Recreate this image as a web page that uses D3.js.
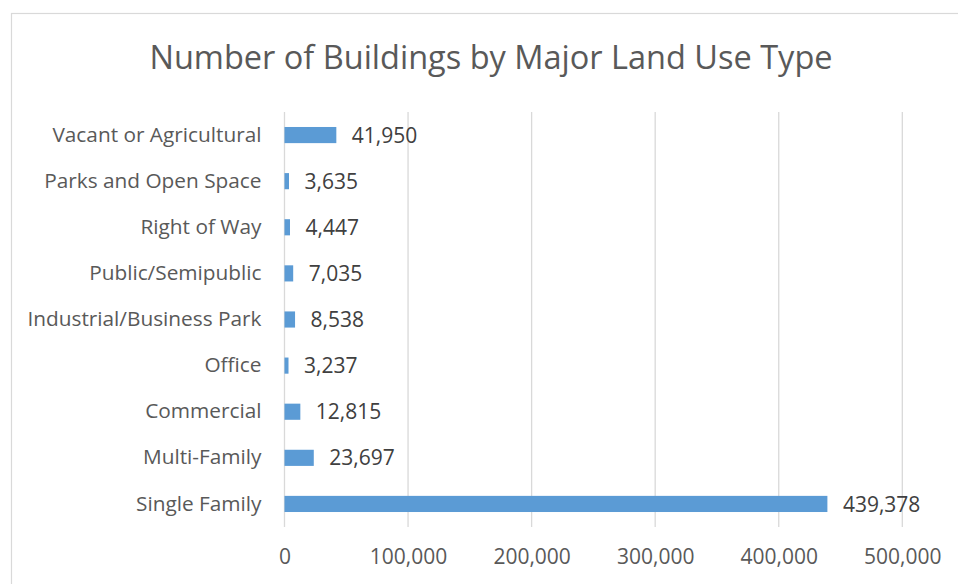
<!DOCTYPE html>
<html><head><meta charset="utf-8">
<script src="https://cdn.jsdelivr.net/npm/d3@7"></script>
<style>body{margin:0;background:#fff;}svg{display:block;font-family:"Open Sans",sans-serif;}</style>
</head><body>
<svg id="c" width="958" height="584"></svg>
<script>
const categories = ["Vacant or Agricultural","Parks and Open Space","Right of Way","Public/Semipublic","Industrial/Business Park","Office","Commercial","Multi-Family","Single Family"];
const values = [41950,3635,4447,7035,8538,3237,12815,23697,439378];
const tickValues = [0,100000,200000,300000,400000,500000];
const title = "Number of Buildings by Major Land Use Type";

const svg = d3.select("#c");
svg.append("rect").attr("x",11.5).attr("y",13.5).attr("width",1000).attr("height",1000)
  .attr("fill","#fff").attr("stroke","#D9D9D9").attr("stroke-width",1.2);

const x = d3.scaleLinear().domain([0,500000]).range([284.5,902.3]);
const y = d3.scaleBand().domain(categories).range([112,527]).paddingInner(0.65).paddingOuter(0.325);

// gridlines
svg.append("g").selectAll("line").data(tickValues).join("line")
  .attr("x1",d=>x(d)).attr("x2",d=>x(d)).attr("y1",112).attr("y2",527)
  .attr("stroke","#D9D9D9").attr("stroke-width",1.3);

// x axis labels
const xAxis = d3.axisBottom(x).tickValues(tickValues).tickFormat(d3.format(",")).tickSize(0).tickPadding(0);
const gx = svg.append("g").attr("transform","translate(0,549)").call(xAxis);
gx.select(".domain").remove();
gx.selectAll("text").attr("font-size",21).attr("fill","#595959").attr("font-family","Open Sans").attr("dy","0.71em").attr("y",0);

// y axis labels
const yAxis = d3.axisLeft(y).tickSize(0).tickPadding(23);
const gy = svg.append("g").attr("transform","translate(284.5,0)").call(yAxis);
gy.select(".domain").remove();
gy.selectAll("text").attr("font-size",20.8).attr("fill","#595959").attr("font-family","Open Sans");

// bars
const data = categories.map((c,i)=>({c, v: values[i]}));
svg.append("g").selectAll("rect").data(data).join("rect")
  .attr("x",x(0)).attr("y",d=>y(d.c)).attr("width",d=>x(d.v)-x(0)).attr("height",y.bandwidth())
  .attr("fill","#5B9BD5");

// value labels
svg.append("g").selectAll("text").data(data).join("text")
  .attr("x",d=>x(d.v)+15.5).attr("y",d=>y(d.c)+y.bandwidth()/2).attr("dy","0.36em")
  .attr("font-size",21).attr("fill","#404040").text(d=>d3.format(",")(d.v));

// title
svg.append("text").attr("x",491).attr("y",69).attr("text-anchor","middle")
  .attr("font-size",32.5).attr("fill","#595959").text(title);
</script>
</body></html>
